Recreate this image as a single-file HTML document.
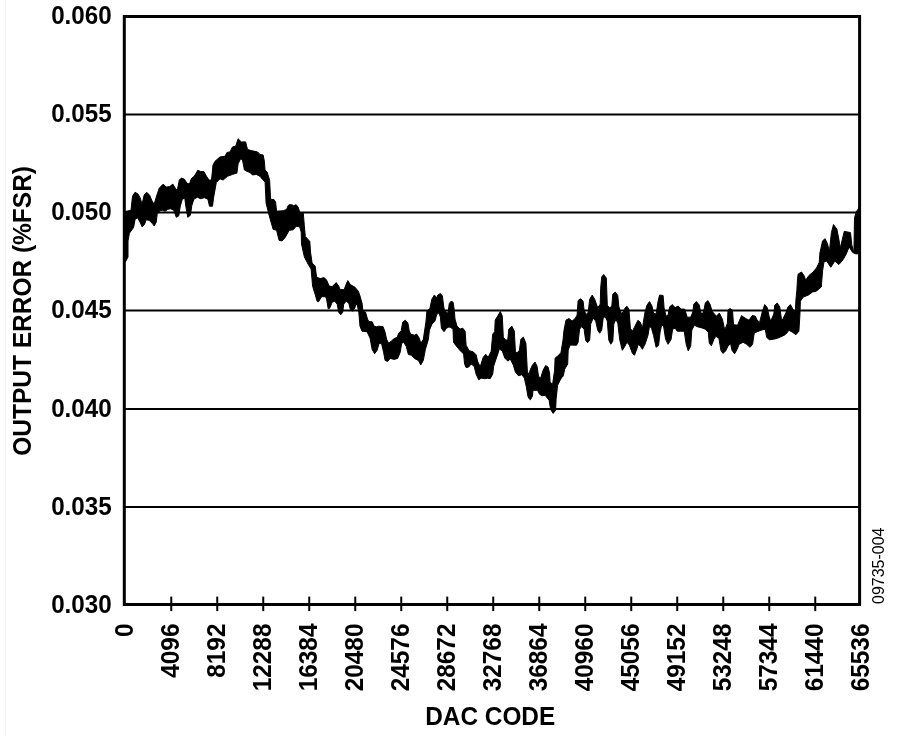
<!DOCTYPE html>
<html><head><meta charset="utf-8"><style>
html,body{margin:0;padding:0;background:#fff;}
svg{display:block;will-change:transform;}
text{font-family:"Liberation Sans",sans-serif;font-weight:bold;font-size:24.4px;fill:#000;}
</style></head><body>
<svg width="900" height="736" viewBox="0 0 900 736">
<rect width="900" height="736" fill="#fff"/>
<line x1="5.5" y1="0" x2="5.5" y2="736" stroke="#f4f4f4" stroke-width="1"/>
<line x1="124" y1="114.5" x2="859" y2="114.5" stroke="#000" stroke-width="2"/><line x1="124" y1="212.5" x2="859" y2="212.5" stroke="#000" stroke-width="2"/><line x1="124" y1="310.5" x2="859" y2="310.5" stroke="#000" stroke-width="2"/><line x1="124" y1="409" x2="859" y2="409" stroke="#000" stroke-width="2"/><line x1="124" y1="507" x2="859" y2="507" stroke="#000" stroke-width="2"/>
<line x1="171.25" y1="596.6" x2="171.25" y2="611.1" stroke="#000" stroke-width="2"/><line x1="217.25" y1="596.6" x2="217.25" y2="611.1" stroke="#000" stroke-width="2"/><line x1="263.25" y1="596.6" x2="263.25" y2="611.1" stroke="#000" stroke-width="2"/><line x1="309.25" y1="596.6" x2="309.25" y2="611.1" stroke="#000" stroke-width="2"/><line x1="355.25" y1="596.6" x2="355.25" y2="611.1" stroke="#000" stroke-width="2"/><line x1="401.25" y1="596.6" x2="401.25" y2="611.1" stroke="#000" stroke-width="2"/><line x1="447.25" y1="596.6" x2="447.25" y2="611.1" stroke="#000" stroke-width="2"/><line x1="493.25" y1="596.6" x2="493.25" y2="611.1" stroke="#000" stroke-width="2"/><line x1="539.25" y1="596.6" x2="539.25" y2="611.1" stroke="#000" stroke-width="2"/><line x1="585.25" y1="596.6" x2="585.25" y2="611.1" stroke="#000" stroke-width="2"/><line x1="631.25" y1="596.6" x2="631.25" y2="611.1" stroke="#000" stroke-width="2"/><line x1="677.25" y1="596.6" x2="677.25" y2="611.1" stroke="#000" stroke-width="2"/><line x1="723.25" y1="596.6" x2="723.25" y2="611.1" stroke="#000" stroke-width="2"/><line x1="769.25" y1="596.6" x2="769.25" y2="611.1" stroke="#000" stroke-width="2"/><line x1="815.25" y1="596.6" x2="815.25" y2="611.1" stroke="#000" stroke-width="2"/>
<polygon points="125.5,211.4 126,211.3 131,210.3 132.5,196.2 135.1,192.2 138.1,194.2 140.1,197.7 142.1,204.2 144.1,195.2 146.6,192.2 149.6,195.2 152.2,201.2 154.2,204.2 156.2,197.2 159.2,188.2 163.2,184.1 166.2,187.1 169.7,186.6 172.8,184.1 175.3,188.2 177.3,190.2 179.3,180.1 181.3,178.1 184.3,179.1 186.8,183.1 189.4,184.1 191.4,178.6 194.4,176.1 197.9,170.1 200.4,171.6 203.9,171.6 206.4,176.1 209,180.1 211.5,180.1 213,165 215,161.3 220,156.9 225,156.3 226.9,152.5 230,151.9 232.5,146.9 235.6,146.3 238.1,138.8 241.3,141.9 245.6,141.9 247.5,149.4 251.3,150.6 257.5,151.9 260,154.4 263.1,155 264.4,161.3 265,170 267.1,172 269.6,180.1 270.6,199.2 274.1,199.7 275.6,202.2 276.6,211.2 283.2,210.7 286.5,209.5 288.2,205.5 289.2,204.7 291.7,204.7 293.7,205.7 296.2,204.7 298.2,207.2 299.7,212.2 303.3,213.2 304.3,225.3 305.3,236.4 309.8,241.4 310.5,252 312.1,263 315.1,266 316.6,277.1 320.1,278.6 324.1,277.6 326.6,280.1 329.2,286.1 332.2,286.6 336.2,282.6 338.7,286.1 340.2,289.6 344.2,289.6 346.2,284.1 347.8,280.6 350.3,284.6 354.8,287.1 358.3,291.2 360,296 362,303 363,311.1 365.5,312.1 367.5,319.1 369,321.7 372.1,321.7 374.1,326.2 376.6,326.7 378.6,326.2 383.1,326.7 385.1,332.2 386.6,339.3 388.7,343.3 391.2,341.3 393.7,338.8 397.2,337.2 398.7,333.2 401.2,330.7 402.7,322.2 405.2,320.2 407.8,322.7 409.3,331.2 410.8,334.2 414.3,335.2 416.8,334.2 419.3,338.2 420.8,343.3 423.3,339.3 425.9,322.2 426.9,311.1 429.9,308.6 431.9,299 434.4,295 436.4,298 437.9,295 440.4,293.5 442.4,296 443.5,305.1 444.5,311 448,313.2 449.3,303.5 451,301.3 453,302 454.3,310 455,319.1 457,326.1 460.1,329.1 462.6,328.1 465.1,331.1 466.1,345.2 469.1,350.7 473.1,351.8 476.1,354.8 477.6,361.3 480.2,366.8 483.2,357.3 485.7,354.3 488.2,357.3 491.2,351.2 492.7,334.2 494.7,331.6 495.2,320.1 498.3,315.1 500.3,311.5 502.3,316.1 503.3,337.2 505.8,340.2 507.8,339.7 508.8,329.1 511.8,326.1 514.3,331.1 515.4,351.2 516.9,353.3 519.4,350.2 520.9,339.2 523.4,337.2 525.9,343.2 527.4,372 529.4,374.4 530,370.2 532.5,365.1 535,362.1 537,366.1 538.5,376.2 540.6,378.2 543.1,370.2 545.6,365.6 548.1,367.1 549.6,373.2 550.1,382.2 552.6,384.2 554.6,370.2 555.1,358.1 557.6,356.1 560.2,353.6 561,352.3 563,340 564,330.2 566,320.1 569,318.6 572.1,321.1 575.1,318.6 577.1,315.1 578.1,300.7 580.6,298.7 583.1,301.2 584.1,310.2 586.1,314.7 588.2,312.2 589.7,299.2 592.2,295.1 594.7,299.2 597.7,307.7 600.2,304.2 600.7,288.1 601.7,277 603.7,274.5 606.3,278 607.3,305.2 609.8,307.7 611.8,306.2 612.8,294.1 615.3,292.1 617.8,295.6 618.8,306.2 620.8,313.2 623.3,312.2 624.9,308.2 626.9,306.2 628.9,309.2 630.4,328.3 632.4,331.3 634.9,326.3 637.9,320.3 640.4,322.3 642.4,328.3 645,312.1 647,305.1 649.5,301.6 652,306.1 653.5,313.1 656.1,314.1 658.1,301.1 659.6,295 663.1,295.5 664.1,308.1 666.1,316.2 668.1,315.1 669.6,307.1 672.1,304.6 675.2,307.6 678.2,306.1 681.2,309.1 684.7,309.1 687.2,317.2 690.7,317.2 692.8,312.1 693.8,304.1 696.3,301.6 699.3,305.1 700.8,313.1 703.3,313.1 705.3,303.1 707.8,300.6 710.4,305.1 711.9,311.1 716.4,316.2 719.4,313.1 722.4,319.2 724.5,329 725.5,328.2 727.4,323.2 728,310.1 730,308.6 732.5,310.1 733.5,324.7 737.6,325.2 739.6,320.2 741.6,315.6 743.6,317.1 746.1,318.7 749.1,320.2 752.1,315.6 755.2,316.1 757.2,320.2 759.7,322.2 762.2,312.1 764.7,304.6 767.2,307.6 769.2,316.6 770.7,321.2 773.8,314.1 774.8,305.1 777.3,303.1 779.8,307.1 781.3,318.2 782.3,320.2 785.8,313.1 787.8,307.1 790.4,304.6 793.4,310.1 795.4,312.1 795.9,300.1 796.9,290 797.5,278.8 798.2,274 801.5,272 804.3,276.1 805.6,280.2 809,275.4 813.1,272 816.5,267.9 819.2,262.5 819.9,253 822.6,240.8 825.1,238.7 827.4,243.5 829.4,251.6 831.4,232.6 833.5,224.5 836.9,229.2 838.9,239.4 840.3,248.2 842.3,239.4 844.3,231.3 847.1,231.9 850.5,232.6 851.8,244.8 853.9,253 854.5,217.7 856.6,210.9 858,209.5 859,207 858.8,252 857.5,254 855.2,253.7 852.5,252.3 849.1,246.9 846.4,253.7 843,259.8 838.9,264.5 834.8,261.1 830.8,267.3 826.7,261.1 824,261.8 822.6,270.7 821.3,287 817.2,290.4 816.3,291.3 812.5,292 808.5,295 803.4,297 800.4,301.1 799.9,315.1 798.9,331.2 795.9,334.7 792.4,332.2 788.8,330.2 786.8,333.2 784.3,335.2 780.8,336.8 777.3,338.3 773.3,339.3 769.2,339.8 766.7,337.3 765.2,329.2 761.2,330.2 757.2,331.7 754.2,333.2 752.6,344.3 750.1,347.3 746.6,344.3 743.1,342.3 739.1,344.3 737.1,349.3 734.6,353.8 732,350.3 730.5,343.3 728,346.3 725.4,351.3 724.5,352 722.9,353.4 720.9,350.3 718.9,338.3 715.9,336.3 713.9,339.3 711.4,345.8 709.3,343.3 708.3,332.2 705.3,329.2 702.8,328.2 697.3,326.7 694.3,325.2 691.8,330.2 690.7,346.3 688.2,350.8 686.2,344.3 684.2,331.2 677.2,331.2 675.2,328.2 672.6,329.2 671.1,339.3 668.1,344.3 665.6,339.3 663.6,326.2 661.6,325.2 660.1,332.2 658.6,345.3 656.1,347.3 653.5,335.3 651.5,328.2 649.5,326.2 648,335.3 645,344.3 644.5,345.2 642.4,349.3 640.4,346.3 638.4,344.2 636.4,350.3 634.4,355.3 632.4,353.3 629.4,345.2 626.9,342.2 624.9,346.3 622.3,350.3 619.8,340.2 617.8,323.1 615.8,319.6 613.8,324.1 612.8,341.2 610.8,344.2 608.8,340.2 607.3,321.1 605.2,316.6 603.2,318.1 601.7,330.2 599.7,333.2 597.7,330.2 595.7,321.1 593.2,318.1 590.7,324.1 589.7,340.2 587.6,342.7 585.6,340.2 584.1,329.2 581.6,326.6 579.6,329.2 578.1,342.2 576.6,345.2 574.1,345.2 570.2,345 568.2,350.1 567.7,364.1 564.7,369.2 563.2,376.2 562,377 560.2,380.2 557.6,385.2 556.1,399.3 555.6,410.4 553.1,413.4 550.6,409.4 549.1,400.3 545.1,395.3 542.1,395.8 539.6,394.3 537.5,390.3 533,390.3 532.4,396.3 530.4,399.8 529.4,399 527.9,396.3 526.4,387.2 524.4,378.2 521.9,374.7 518.4,375.7 515.4,372.1 513.3,365.1 510.3,359.1 507.8,361.1 504.8,358.1 502.3,351 499.3,349 497.8,354 495.7,360.1 493.7,366.1 492.7,374.2 490.2,378.7 487.7,378.2 484.7,378.7 481.2,378.2 478.7,379.7 476.1,374.2 474.1,366.1 471.1,364.1 468.6,367.1 466.1,367.6 464.6,364.1 463.6,354 459.6,350 456,345.7 453.5,342.2 453,329.1 450,327.1 448.5,327.2 446.5,328.2 444,331.7 441.4,328.2 440.4,317.1 438.9,313.1 436.9,314.1 434.9,321.2 431.9,324.2 429.4,330.2 428.4,339.3 425.4,349.3 423.3,360.4 420.8,364.9 418.3,360.4 414.3,358.4 411.3,355.3 408.3,354.3 406.2,346.3 403.7,342.3 401.7,343.3 400.2,352.3 397.7,358.4 394.2,359.4 390.2,358.4 387.6,361.4 385.1,360.4 383.6,352.3 381.6,343.8 379.1,343.3 377.1,350.3 374.6,353.8 372.1,349.3 370.1,338.2 367,331.7 362,331.2 360,326.2 358.8,312.3 357.3,305.2 355.8,304.2 354.8,308.2 352.3,311.3 350.3,309.3 348.8,303.2 346.2,301.2 343.7,304.2 342.7,312.3 340.7,314.8 338.7,312.3 337.2,304.2 334.7,301.2 332.2,302.2 329.7,308.2 328.2,308.8 326.6,299.2 325.6,296.7 321.6,296.7 318.6,301.7 317.1,301.2 315.1,294.2 312.6,286.1 311.1,269 308,264 304.4,257 301.5,244 301.2,232.3 299.7,226.8 296.2,226.3 293.2,229.8 289.2,230.3 285.2,237.4 282.1,240.9 279.1,240.4 276.6,230.3 273.1,229.3 269.1,215.2 266.1,203.2 265.1,182.1 262.5,179.4 260,176.3 256.3,174.4 252.5,175 250,172.5 246.9,171.3 244.4,170 242.5,160 240.6,158.8 238.1,163.8 236.9,173.1 232.5,174.4 227.5,176.3 223.1,180 220,178.8 216.3,182.5 213.5,198.2 212.5,206.2 209.5,206.2 207.9,199.2 204.4,197.7 200.4,198.7 197.4,197.2 193.9,199.2 191.9,205.2 190.4,215.3 187.8,217.3 185.8,206.2 184.8,198.2 182.3,199.2 180.3,206.2 178.8,215.8 176.3,217.3 173.8,210.3 170.8,208.8 167.7,209.3 165.2,211.3 162.7,210.3 159.7,210.8 157.2,214.3 156.2,222.3 154.2,225.9 152.2,223.3 149.1,220.3 146.1,219.8 144.6,224.3 142.1,226.9 140.1,222.3 137.6,217.8 135.1,219.3 133.6,227.4 130,232.4 129.4,233.3 128,240.9 128,257 125.5,261.8" fill="#000" stroke="#000" stroke-width="1" stroke-linejoin="round"/>
<rect x="124.3" y="16.5" width="735.3" height="588" fill="none" stroke="#000" stroke-width="3"/>
<text transform="translate(111.7,23.90) scale(1,1.05)" text-anchor="end" style="font-size:24.2px">0.060</text><text transform="translate(111.7,122.08) scale(1,1.05)" text-anchor="end" style="font-size:24.2px">0.055</text><text transform="translate(111.7,220.26) scale(1,1.05)" text-anchor="end" style="font-size:24.2px">0.050</text><text transform="translate(111.7,318.44) scale(1,1.05)" text-anchor="end" style="font-size:24.2px">0.045</text><text transform="translate(111.7,416.62) scale(1,1.05)" text-anchor="end" style="font-size:24.2px">0.040</text><text transform="translate(111.7,514.80) scale(1,1.05)" text-anchor="end" style="font-size:24.2px">0.035</text><text transform="translate(111.7,612.98) scale(1,1.05)" text-anchor="end" style="font-size:24.2px">0.030</text>
<text transform="translate(133.10,623.5) rotate(-90) scale(1,1.05)" text-anchor="end">0</text><text transform="translate(179.09,623.5) rotate(-90) scale(1,1.05)" text-anchor="end">4096</text><text transform="translate(225.08,623.5) rotate(-90) scale(1,1.05)" text-anchor="end">8192</text><text transform="translate(271.07,623.5) rotate(-90) scale(1,1.05)" text-anchor="end">12288</text><text transform="translate(317.06,623.5) rotate(-90) scale(1,1.05)" text-anchor="end">16384</text><text transform="translate(363.05,623.5) rotate(-90) scale(1,1.05)" text-anchor="end">20480</text><text transform="translate(409.04,623.5) rotate(-90) scale(1,1.05)" text-anchor="end">24576</text><text transform="translate(455.03,623.5) rotate(-90) scale(1,1.05)" text-anchor="end">28672</text><text transform="translate(501.02,623.5) rotate(-90) scale(1,1.05)" text-anchor="end">32768</text><text transform="translate(547.01,623.5) rotate(-90) scale(1,1.05)" text-anchor="end">36864</text><text transform="translate(593.00,623.5) rotate(-90) scale(1,1.05)" text-anchor="end">40960</text><text transform="translate(638.99,623.5) rotate(-90) scale(1,1.05)" text-anchor="end">45056</text><text transform="translate(684.98,623.5) rotate(-90) scale(1,1.05)" text-anchor="end">49152</text><text transform="translate(730.97,623.5) rotate(-90) scale(1,1.05)" text-anchor="end">53248</text><text transform="translate(776.96,623.5) rotate(-90) scale(1,1.05)" text-anchor="end">57344</text><text transform="translate(822.95,623.5) rotate(-90) scale(1,1.05)" text-anchor="end">61440</text><text transform="translate(868.94,623.5) rotate(-90) scale(1,1.05)" text-anchor="end">65536</text>
<text transform="translate(31.1,310.9) rotate(-90) scale(1,1.05)" text-anchor="middle" style="font-size:24.5px">OUTPUT ERROR (%FSR)</text>
<text transform="translate(490.2,725) scale(1,1.05)" text-anchor="middle">DAC CODE</text>
<text transform="translate(884.2,604) rotate(-90) scale(1,1.05)" style="font-weight:normal;font-size:16px">09735-004</text>
</svg>
</body></html>
